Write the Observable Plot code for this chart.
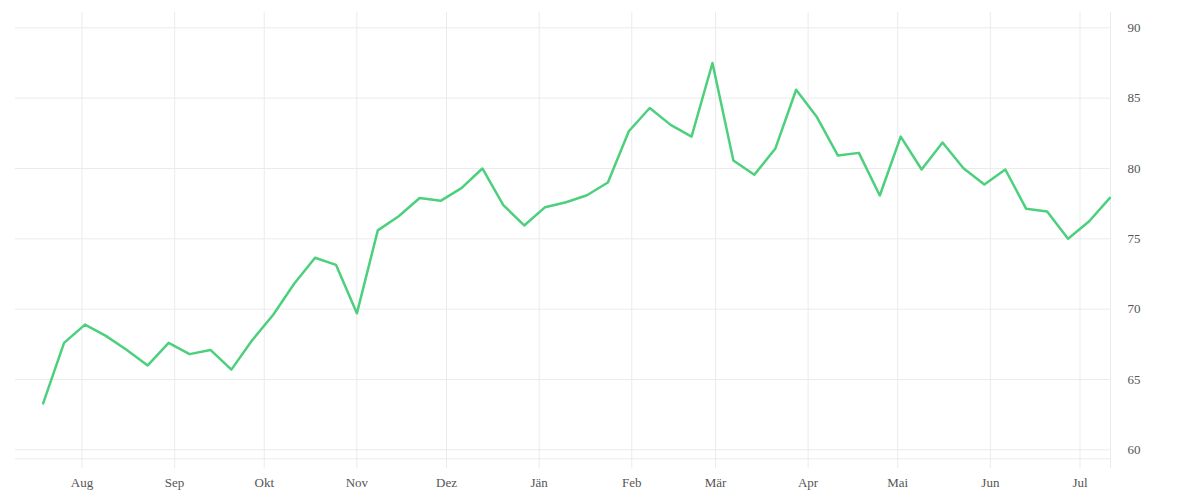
<!DOCTYPE html>
<html>
<head>
<meta charset="utf-8">
<script src="https://cdn.jsdelivr.net/npm/d3@7"></script>
<script src="https://cdn.jsdelivr.net/npm/@observablehq/plot@0.6"></script>
<style>
  html, body { margin: 0; padding: 0; background: #fff; }
  #chart svg { display: block; }
</style>
</head>
<body>
<div id="chart"></div>
<script>
const dates = [
  "2022-07-19","2022-07-26","2022-08-02","2022-08-09","2022-08-16","2022-08-23","2022-08-30",
  "2022-09-06","2022-09-13","2022-09-20","2022-09-27","2022-10-04","2022-10-11","2022-10-18",
  "2022-10-25","2022-11-01","2022-11-08","2022-11-15","2022-11-22","2022-11-29","2022-12-06",
  "2022-12-13","2022-12-20","2022-12-27","2023-01-03","2023-01-10","2023-01-17","2023-01-24",
  "2023-01-31","2023-02-07","2023-02-14","2023-02-21","2023-02-28","2023-03-07","2023-03-14",
  "2023-03-21","2023-03-28","2023-04-04","2023-04-11","2023-04-18","2023-04-25","2023-05-02",
  "2023-05-09","2023-05-16","2023-05-23","2023-05-30","2023-06-06","2023-06-13","2023-06-20",
  "2023-06-27","2023-07-04","2023-07-11"
];
const values = [
  63.3, 67.6, 68.9, 68.1, 67.1, 66.0, 67.6,
  66.8, 67.1, 65.7, 67.8, 69.6, 71.8, 73.65,
  73.15, 69.7, 75.6, 76.6, 77.9, 77.7, 78.6,
  80.0, 77.4, 75.95, 77.25, 77.6, 78.1, 79.0,
  82.65, 84.3, 83.1, 82.27, 87.5, 80.57, 79.55,
  81.4, 85.6, 83.64, 80.92, 81.11, 78.08, 82.27,
  79.93, 81.85, 80.02, 78.86, 79.93, 77.13, 76.94,
  75.0, 76.23, 77.91
];
const monthTicks = ["2022-08-01","2022-09-01","2022-10-01","2022-11-01","2022-12-01","2023-01-01",
  "2023-02-01","2023-03-01","2023-04-01","2023-05-01","2023-06-01","2023-07-01"];
const monthLabels = ["Aug","Sep","Okt","Nov","Dez","Jän","Feb","Mär","Apr","Mai","Jun","Jul"];
const yTicks = [60, 65, 70, 75, 80, 85, 90];

const data = dates.map((d, i) => ({date: new Date(d + "T00:00Z"), value: values[i]}));
const monthDates = monthTicks.map(d => new Date(d + "T00:00Z"));
const labelOf = new Map(monthDates.map((d, i) => [+d, monthLabels[i]]));

const xDomain = [new Date("2022-07-09T18:00Z"), new Date("2023-07-11T05:00Z")];
const yDomain = [58.67, 91.09];
const gridColor = "#ebebeb";

const chart = Plot.plot({
  width: 1200,
  height: 500,
  marginLeft: 15,
  marginRight: 90,
  marginTop: 12,
  marginBottom: 32,
  style: {fontFamily: "'Liberation Serif', serif", fontSize: "13px", color: "#555", background: "#fff"},
  x: {type: "utc", domain: xDomain},
  y: {domain: yDomain},
  marks: [
    Plot.ruleY(yTicks, {stroke: gridColor, strokeWidth: 1}),
    Plot.ruleY([59.36], {stroke: gridColor, strokeWidth: 1}),
    Plot.ruleX(monthDates, {stroke: gridColor, strokeWidth: 1}),
    Plot.ruleX([xDomain[1]], {stroke: gridColor, strokeWidth: 1}),
    Plot.line(data, {x: "date", y: "value", stroke: "#4cd07d", strokeWidth: 2.5, strokeLinejoin: "round", strokeLinecap: "round"}),
    Plot.axisX(monthDates, {tickSize: 0, tickPadding: 9, tickFormat: d => labelOf.get(+d), label: null, fill: "#555"}),
    Plot.axisY(yTicks, {anchor: "right", tickSize: 0, tickPadding: 17, textAnchor: "start", label: null, fill: "#555"})
  ]
});
document.getElementById("chart").appendChild(chart);
</script>
</body>
</html>
